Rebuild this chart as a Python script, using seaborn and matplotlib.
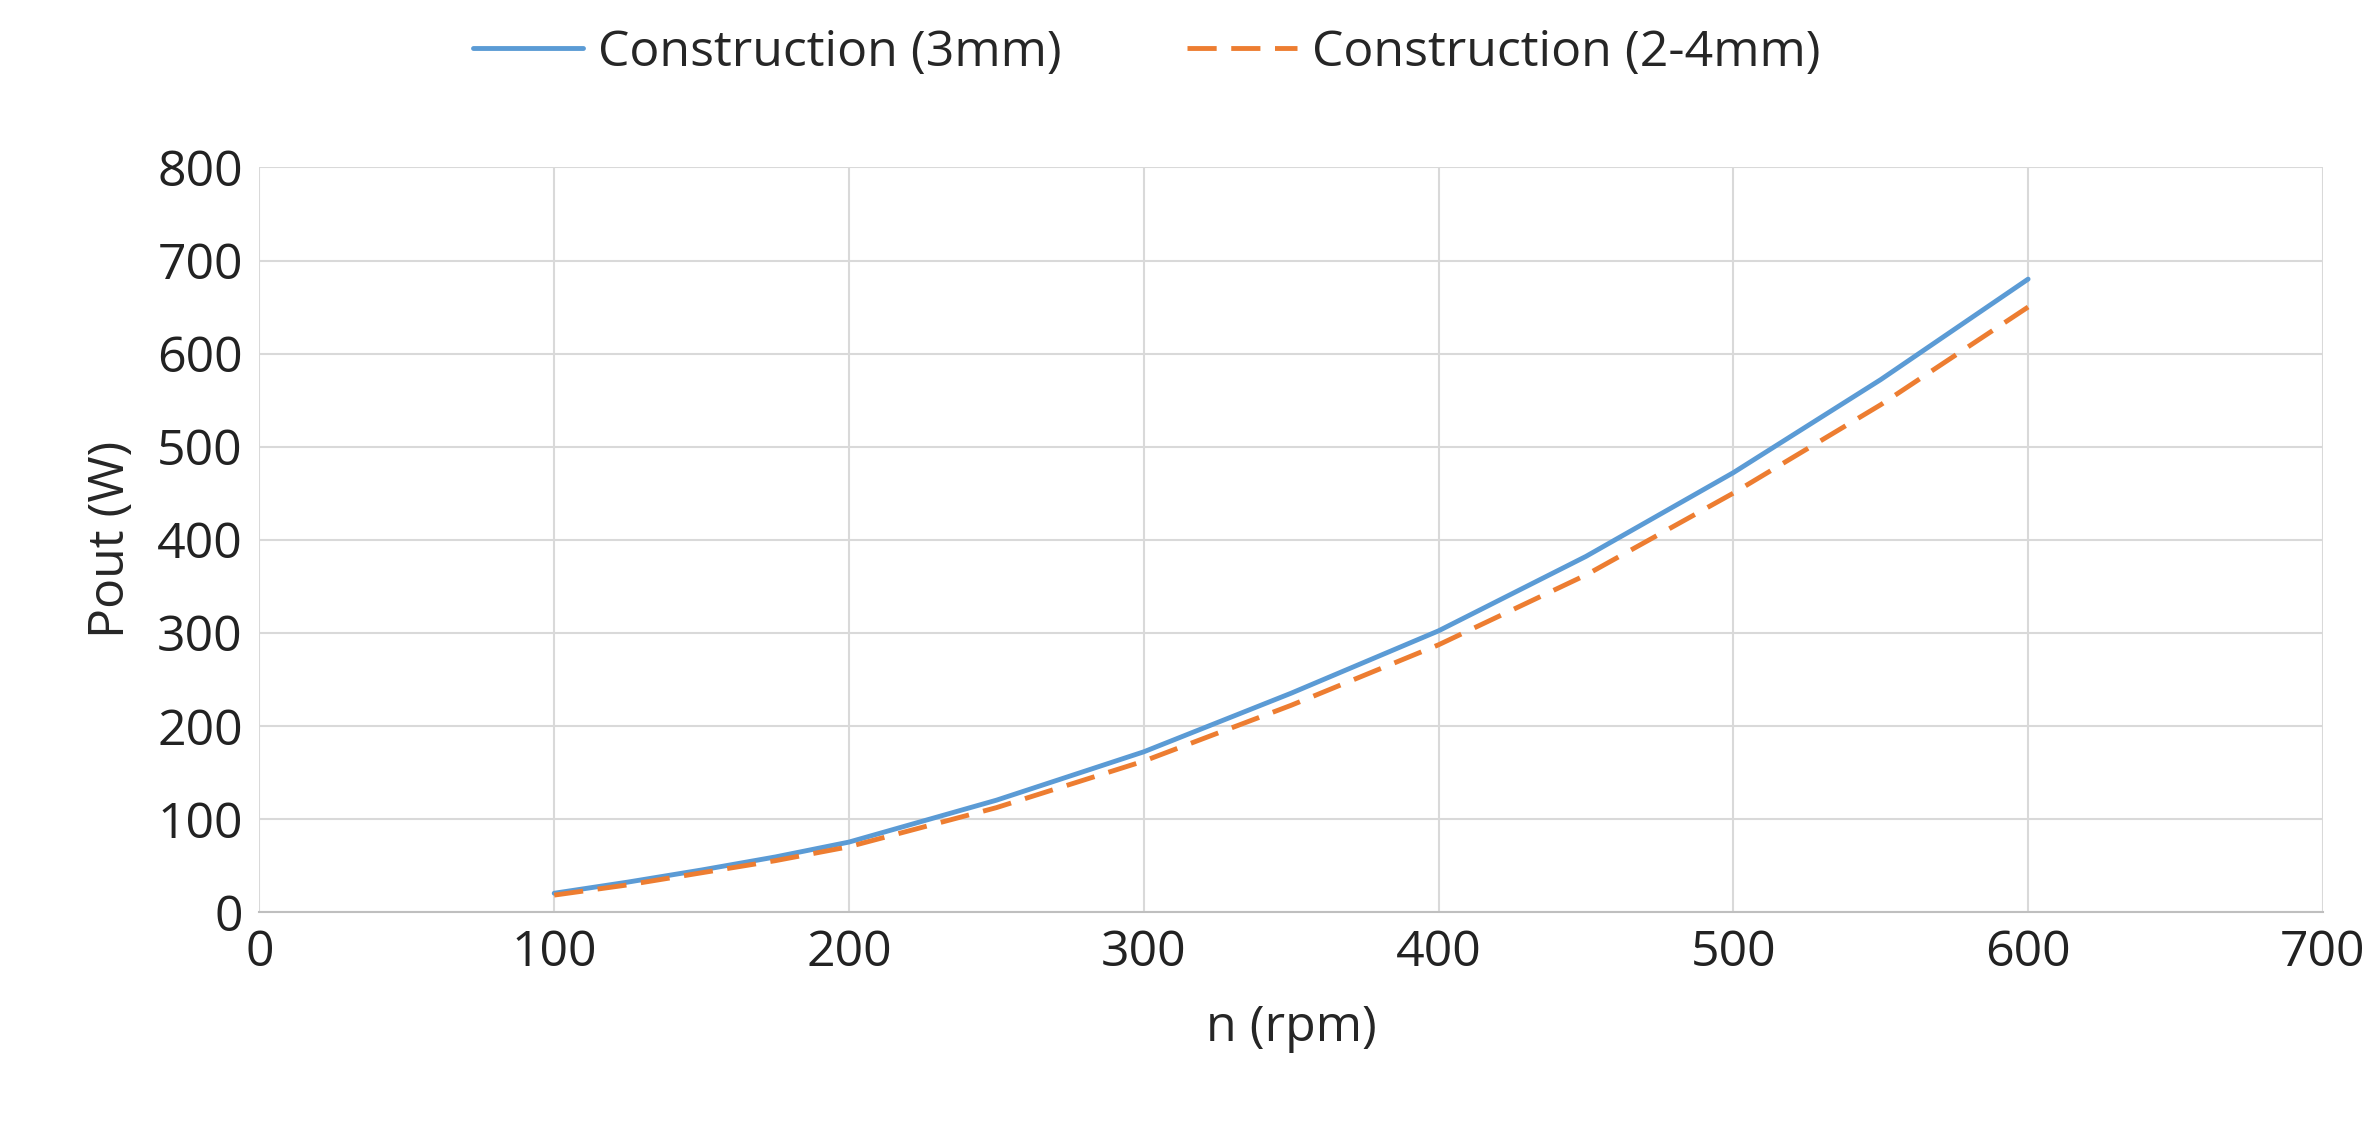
import matplotlib
matplotlib.use("Agg")
import matplotlib.pyplot as plt
import seaborn as sns
import pandas as pd

rpm = [100, 125, 150, 175, 200, 250, 300, 350, 400, 450, 500, 550, 600]
p_3mm = [20, 32, 45, 59, 75, 120, 172, 235, 302, 382, 472, 572, 680]
p_24mm = [18, 29, 42, 55, 70, 112, 162, 222, 287, 362, 450, 545, 650]
labels = ["Construction (3mm)", "Construction (2-4mm)"]

df = pd.DataFrame({"n": rpm * 2, "P": p_3mm + p_24mm,
                   "series": [labels[0]] * len(rpm) + [labels[1]] * len(rpm)})

sns.set_theme(style="whitegrid")
plt.rcParams['font.family'] = ['Open Sans', 'DejaVu Sans']
fig = plt.figure(figsize=(23.8, 11.47), dpi=100)
ax = fig.add_axes([0.109, 0.205, 0.867, 0.649])
palette = {labels[0]: "#5B9BD5", labels[1]: "#ED7D31"}
sns.lineplot(data=df, x="n", y="P", hue="series", style="series",
             palette=palette, dashes={labels[0]: "", labels[1]: (6, 3)},
             linewidth=3.5, ax=ax)
ax.set_xlim(0, 700)
ax.set_ylim(0, 800)
ax.set_xticks(range(0, 701, 100))
ax.set_yticks(range(0, 801, 100))
ax.tick_params(labelsize=36, colors="#222222", length=0, pad=12)
ax.grid(True, color="#d9d9d9", linewidth=1.5)
for s in ["top", "right", "left"]:
    ax.spines[s].set_visible(False)
ax.spines["bottom"].set_color("#bfbfbf")
ax.spines["bottom"].set_linewidth(1.5)
ax.set_xlabel("n (rpm)", fontsize=36, labelpad=18)
ax.set_ylabel("Pout (W)", fontsize=36, labelpad=15)
h, l = ax.get_legend_handles_labels()
ax.legend(h, l, loc="lower center", bbox_to_anchor=(0.43, 1.06), ncol=2,
          frameon=False, fontsize=36, handlelength=2.2, handletextpad=0.3,
          columnspacing=2.5)
fig.savefig("out.png", dpi=100)
